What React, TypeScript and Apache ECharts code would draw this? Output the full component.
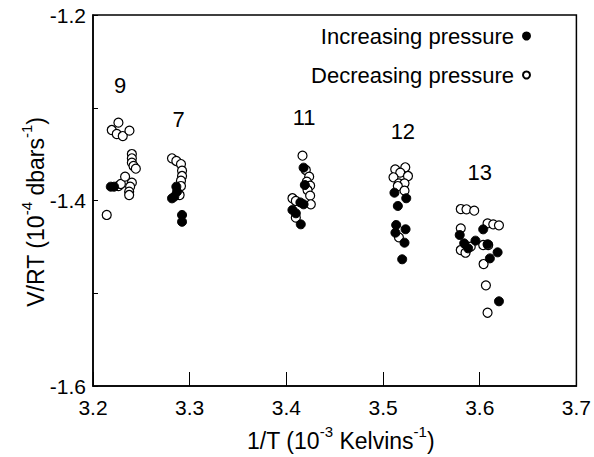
import React, { useEffect, useRef } from "react";
import * as echarts from "echarts";

const xTicks = [3.2, 3.3, 3.4, 3.5, 3.6, 3.7];
const yLabeled = [-1.2, -1.4, -1.6];

const increasing: number[][] = [
  [3.2184, -1.3851], [3.2218, -1.3851],
  [3.2862, -1.3851], [3.2869, -1.3905], [3.2817, -1.3977], [3.2841, -1.3959], [3.2921, -1.4156], [3.2921, -1.4229],
  [3.4178, -1.3646], [3.4191, -1.3833], [3.4178, -1.4041], [3.4145, -1.4021], [3.4063, -1.4102], [3.4098, -1.4138], [3.4149, -1.4257],
  [3.5118, -1.3916], [3.524, -1.3976], [3.5153, -1.4059], [3.5136, -1.4264], [3.5233, -1.431], [3.5128, -1.4347], [3.5222, -1.4455], [3.5198, -1.4634],
  [3.6036, -1.4311], [3.5793, -1.4372], [3.5839, -1.4462], [3.5956, -1.4433], [3.6081, -1.4472], [3.588, -1.4516], [3.6185, -1.4559], [3.6105, -1.4624], [3.6199, -1.5087],
];

const decreasing: number[][] = [
  [3.2263, -1.3161], [3.2194, -1.324], [3.2246, -1.3283], [3.2308, -1.3305], [3.2377, -1.3247],
  [3.2402, -1.3499], [3.2402, -1.3545], [3.2402, -1.3592], [3.2419, -1.3628], [3.2443, -1.3657],
  [3.2263, -1.3844], [3.2288, -1.3822], [3.2332, -1.3743], [3.2402, -1.3808], [3.2384, -1.3851], [3.2374, -1.3905], [3.2374, -1.3941], [3.2142, -1.4156],
  [3.2817, -1.3545], [3.2862, -1.3574], [3.291, -1.3607], [3.2921, -1.3679], [3.2921, -1.3736], [3.291, -1.3786], [3.291, -1.3844], [3.2896, -1.3941],
  [3.4167, -1.3517], [3.4201, -1.3671], [3.4236, -1.3743], [3.4212, -1.3797], [3.4246, -1.384], [3.4219, -1.3887], [3.4246, -1.3948], [3.4063, -1.3976], [3.4098, -1.4005], [3.4253, -1.4041], [3.4098, -1.4185],
  [3.5126, -1.3664], [3.523, -1.3642], [3.5178, -1.37], [3.5258, -1.3736], [3.5108, -1.375], [3.5164, -1.3815], [3.5222, -1.3815], [3.5153, -1.3844], [3.5222, -1.3894], [3.5164, -1.4397],
  [3.5804, -1.4092], [3.5863, -1.4095], [3.5943, -1.411], [3.6081, -1.4246], [3.614, -1.4257], [3.6199, -1.4268], [3.5804, -1.43], [3.6036, -1.448], [3.6088, -1.448], [3.5907, -1.4498], [3.5804, -1.4534], [3.5853, -1.4563], [3.604, -1.4685], [3.6064, -1.4915], [3.6081, -1.521],
];

const groupNames = ["9", "7", "11", "12", "13"];
const groupPos: number[][] = [
  [3.228, -1.2755], [3.2886, -1.3132], [3.4184, -1.31], [3.5205, -1.3258], [3.6001, -1.37],
];

const FONT = "'Liberation Sans', Arial, Helvetica, sans-serif";

export default function App() {
  const ref = useRef<HTMLDivElement>(null);
  useEffect(() => {
    if (!ref.current) return;
    const chart = echarts.init(ref.current, null, { renderer: "svg" });
    const supStyle = { fontSize: 15, fontFamily: FONT, color: "#000", verticalAlign: "top" as const, lineHeight: 15 };
    const mainStyle = { fontSize: 23, fontFamily: FONT, color: "#000", lineHeight: 28, verticalAlign: "bottom" as const };
    chart.setOption({
      animation: false,
      backgroundColor: "#fff",
      textStyle: { fontFamily: FONT },
      grid: { left: 93, right: 17, top: 15, bottom: 71, show: true, borderColor: "#000", borderWidth: 1.5, backgroundColor: "transparent" },
      legend: {
        data: ["Increasing pressure", "Decreasing pressure"],
        orient: "vertical",
        align: "right",
        right: 58,
        top: 20,
        itemGap: 17,
        itemWidth: 7,
        itemHeight: 7,
        icon: "circle",
        textStyle: { fontSize: 22, fontFamily: FONT, color: "#000", padding: [0, 4, 0, 0] },
      },
      xAxis: {
        type: "value",
        min: 3.2,
        max: 3.7,
        interval: 0.1,
        axisLine: { show: true, lineStyle: { color: "#000", width: 1.5 } },
        axisTick: { show: true, inside: true, length: 14, lineStyle: { color: "#000", width: 1 } },
        splitLine: { show: false },
        axisLabel: {
          margin: 11,
          fontSize: 21,
          fontFamily: FONT,
          color: "#000",
          formatter: (v: number) => {
            const t = xTicks.find((x) => Math.abs(x - v) < 1e-6);
            return t === undefined ? "" : t.toFixed(1);
          },
        },
        name: "{m|1/T (10}{s|-3}{m| Kelvins}{s|-1}{m|)}",
        nameLocation: "middle",
        nameGap: 38,
        nameTextStyle: { rich: { m: mainStyle, s: supStyle }, padding: [0, 0, 0, 12] },
      },
      yAxis: {
        type: "value",
        min: -1.6,
        max: -1.2,
        interval: 0.1,
        axisLine: { show: true, lineStyle: { color: "#000", width: 1.5 } },
        axisTick: { show: true, inside: true, length: 5, lineStyle: { color: "#000", width: 1 } },
        splitLine: { show: false },
        axisLabel: {
          margin: 7,
          fontSize: 21,
          fontFamily: FONT,
          color: "#000",
          formatter: (v: number) => {
            const t = yLabeled.find((y) => Math.abs(y - v) < 1e-6);
            return t === undefined ? "" : t.toFixed(1);
          },
        },
      },
      graphic: [
        {
          type: "text",
          x: 33,
          y: 212,
          rotation: Math.PI / 2,
          style: {
            text: "{m|V/RT (10}{s|-4}{m| dbars}{s|-1}{m|)}",
            align: "center",
            verticalAlign: "middle",
            rich: { m: mainStyle, s: supStyle },
          },
        },
      ],
      series: [
        {
          name: "Decreasing pressure",
          type: "scatter",
          data: decreasing,
          symbol: "circle",
          symbolSize: 9,
          itemStyle: { color: "#fff", borderColor: "#000", borderWidth: 1.2, opacity: 1 },
        },
        {
          name: "Increasing pressure",
          type: "scatter",
          data: increasing,
          symbol: "circle",
          symbolSize: 9,
          itemStyle: { color: "#000", borderColor: "#000", borderWidth: 1, opacity: 1 },
        },
        {
          name: "groups",
          type: "scatter",
          symbol: "circle",
          symbolSize: 0,
          itemStyle: { color: "#000" },
          data: groupPos.map((p, i) => ({ name: groupNames[i], value: p })),
          label: {
            show: true,
            position: "inside",
            formatter: "{b}",
            fontSize: 22,
            fontFamily: FONT,
            color: "#000",
            opacity: 1,
          },
          silent: true,
        },
      ],
    });
    return () => chart.dispose();
  }, []);
  return <div ref={ref} style={{ position: "fixed", left: 0, top: 0, width: 594, height: 457 }} />;
}
